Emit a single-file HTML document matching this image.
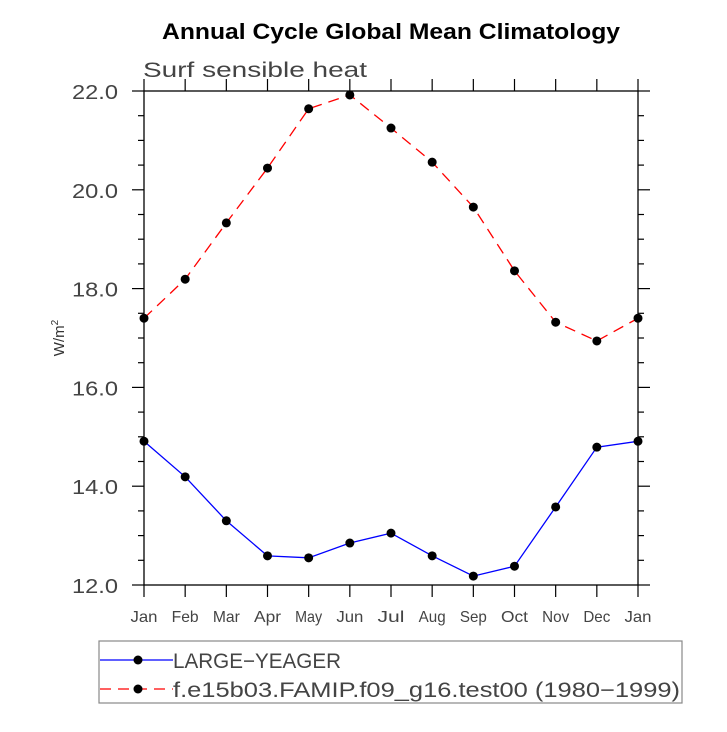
<!DOCTYPE html>
<html><head><meta charset="utf-8"><style>
body{margin:0;background:#fff}
svg text{font-family:"Liberation Sans",sans-serif}
</style></head><body>
<svg id="c" width="727" height="727" viewBox="0 0 727 727">
<rect width="727" height="727" fill="#fff"/>
<text x="162" y="39" font-size="22" font-weight="bold" textLength="458" lengthAdjust="spacingAndGlyphs">Annual Cycle Global Mean Climatology</text>
<text x="143" y="77" font-size="21" fill="#444" textLength="224" lengthAdjust="spacingAndGlyphs">Surf sensible heat</text>
<text transform="translate(64,338) rotate(-90)" text-anchor="middle" font-size="15" fill="#333">W/m<tspan font-size="10" dy="-6">2</tspan></text>
<g id="axes"></g>
<g id="series"></g>
<rect x="99" y="641" width="583" height="62" fill="none" stroke="#888" stroke-width="1.2"/>
<g>
<line x1="100" y1="660" x2="173" y2="660" stroke="#0000ff" stroke-width="1.3"/>
<circle cx="138" cy="660" r="4.5" fill="#000"/>
<text x="173" y="668" font-size="21" fill="#444" textLength="168" lengthAdjust="spacingAndGlyphs">LARGE−YEAGER</text>
</g>
<g>
<line x1="100" y1="689" x2="173" y2="689" stroke="#ff0000" stroke-width="1.3" stroke-dasharray="11,7"/>
<circle cx="138" cy="689" r="4.5" fill="#000"/>
<text x="173" y="697" font-size="21" fill="#444" textLength="507" lengthAdjust="spacingAndGlyphs">f.e15b03.FAMIP.f09_g16.test00 (1980−1999)</text>
</g>
</svg>
<script>
const months=["Jan","Feb","Mar","Apr","May","Jun","Jul","Aug","Sep","Oct","Nov","Dec","Jan"];
const yTicks=[12,14,16,18,20,22];
const blueVals=[14.91,14.19,13.30,12.59,12.55,12.85,13.05,12.59,12.18,12.38,13.58,14.79,14.91];
const redVals=[17.40,18.19,19.33,20.44,21.64,21.92,21.25,20.56,19.65,18.36,17.32,16.94,17.40];
const X0=144,X1=638,Y0=585,Y1=91,ymin=12,ymax=22;
const xs=i=>X0+(X1-X0)*i/(months.length-1);
const ys=v=>Y0-(Y0-Y1)*(v-ymin)/(ymax-ymin);
const NS="http://www.w3.org/2000/svg";
function mk(t,a,p){const e=document.createElementNS(NS,t);for(const k in a)e.setAttribute(k,a[k]);p.appendChild(e);return e;}
const ax=document.getElementById('axes');
const fr=mk('rect',{x:X0,y:Y1,width:X1-X0,height:Y0-Y1,fill:'none',stroke:'#000','stroke-width':1.3},ax);


months.forEach((m,i)=>{
  const x=xs(i);
  mk('line',{x1:x,y1:Y0,x2:x,y2:Y0+12,stroke:'#000','stroke-width':1.2},ax);
  mk('line',{x1:x,y1:Y1,x2:x,y2:Y1-12,stroke:'#000','stroke-width':1.2},ax);
  const t=mk('text',{x:x,y:Y0+37,'text-anchor':'middle','font-size':16,fill:'#444',textLength:27,lengthAdjust:'spacingAndGlyphs'},ax);
  t.textContent=m;
  
  
});
for(let v=ymin;v<=ymax+1e-9;v+=0.5){
  const y=ys(v),maj=Math.abs(v-Math.round(v/2)*2)<1e-9,L=maj?12:6;
  mk('line',{x1:X0-L,y1:y,x2:X0,y2:y,stroke:'#000','stroke-width':1.2},ax);
  mk('line',{x1:X1,y1:y,x2:X1+L,y2:y,stroke:'#000','stroke-width':1.2},ax);
}
yTicks.forEach(v=>{
  const t=mk('text',{x:X0-26,y:ys(v)+8,'text-anchor':'end','font-size':20,fill:'#444',textLength:46,lengthAdjust:'spacingAndGlyphs'},ax);
  t.textContent=v.toFixed(1);
  
  
});
const sg=document.getElementById('series');
function series(vals,color,dash,name){
  const g=mk('g',{},sg);
  
  
  const a={points:vals.map((v,i)=>xs(i)+','+ys(v)).join(' '),fill:'none',stroke:color,'stroke-width':1.3};
  if(dash)a['stroke-dasharray']=dash;
  mk('polyline',a,g);
  vals.forEach((v,i)=>{
    const c=mk('circle',{cx:xs(i),cy:ys(v),r:4.5,fill:'#000'},g);
    
    
  });
}
series(redVals,'#ff0000','11,7','series-fe15b03');
series(blueVals,'#0000ff',null,'series-large-yeager');
</script>
</body></html>
